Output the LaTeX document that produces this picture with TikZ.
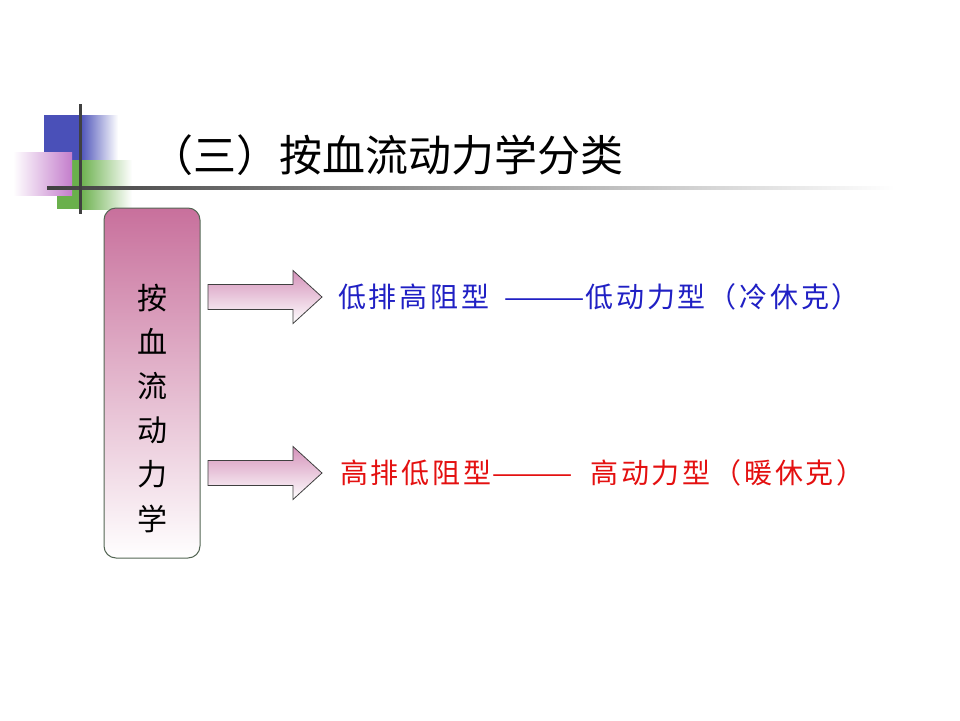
\documentclass[tikz,border=0pt]{standalone}
\usepackage{fontspec}
\newfontfamily\cjk{Noto Sans CJK SC}
\usetikzlibrary{positioning}
\definecolor{slideblue}{RGB}{74,80,184}
\definecolor{slidegreen}{RGB}{106,176,76}
\definecolor{slidepink}{RGB}{196,126,204}
\definecolor{rulegray}{RGB}{64,64,64}
\definecolor{boxtop}{RGB}{200,112,156}
\definecolor{boxline}{RGB}{84,102,84}
\definecolor{arrowtop}{RGB}{212,146,186}
\definecolor{textblue}{RGB}{32,32,196}
\definecolor{textred}{RGB}{228,16,16}
\newcommand{\longdash}{\scalebox{1.75}[1]{——}}

\begin{document}
\begin{tikzpicture}[x=1pt,y=-1pt,
    heading/.style={anchor=west, inner sep=0pt, font=\cjk\fontsize{43}{43}\selectfont},
    sidebox/.style={draw=boxline, line width=1pt, rounded corners=12pt,
        top color=boxtop, bottom color=white, minimum width=96pt, minimum height=350pt},
    sidetext/.style={align=center, inner sep=0pt, font=\cjk\fontsize{30}{44.2}\selectfont},
    blockarrow/.style={draw=rulegray, line width=0.8pt, top color=arrowtop, bottom color=white},
    kind/.style={anchor=west, inner sep=0pt, font=\cjk\fontsize{28}{28}\selectfont\addfontfeature{LetterSpace=10}}
]
    % slide background
    \fill[white] (0,0) rectangle (960,720);
    \useasboundingbox (0,0) rectangle (960,720);

    % corner decoration
    \fill[slideblue] (44,115) rectangle (80,160);
    \shade[left color=slideblue, right color=white] (80,115) rectangle (118,160);
    \fill[slidegreen] (57,160) rectangle (80,209);
    \shade[left color=slidegreen, right color=white] (80,160) rectangle (132,209);
    \shade[shading angle=135, left color=white, right color=slidepink] (13,152) rectangle (72,195);
    \shade[left color=rulegray, right color=white] (47,186.5) rectangle (895,189.5);
    \draw[rulegray, line width=3pt] (80,104) -- (80,214);

    % title
    \node[heading] (title) at (150,155) {（三）按血流动力学分类};

    % left box
    \node[sidebox] (side) at (152,383) {};
    \node[sidetext] (sidelabel) at (152,408) {按\\血\\流\\动\\力\\学};

    % arrows
    \coordinate (arrA) at (208,297);
    \coordinate (arrB) at (208,473);
    \draw[blockarrow] (arrA) ++(0,-12.5) -- ++(85,0) -- ++(0,-14) -- ++(29,26.5)
        -- ++(-29,26.5) -- ++(0,-14) -- ++(-85,0) -- cycle;
    \draw[blockarrow] (arrB) ++(0,-12.5) -- ++(85,0) -- ++(0,-14) -- ++(29,26.5)
        -- ++(-29,26.5) -- ++(0,-14) -- ++(-85,0) -- cycle;

    % the two kinds
    \node[kind, textblue] (cold) at (338,297) {低排高阻型\hspace{0.5em}\longdash 低动力型（冷休克）};
    \node[kind, textred]  (warm) at (340,473) {高排低阻型\longdash\hspace{0.6em}高动力型（暖休克）};
\end{tikzpicture}
\end{document}
